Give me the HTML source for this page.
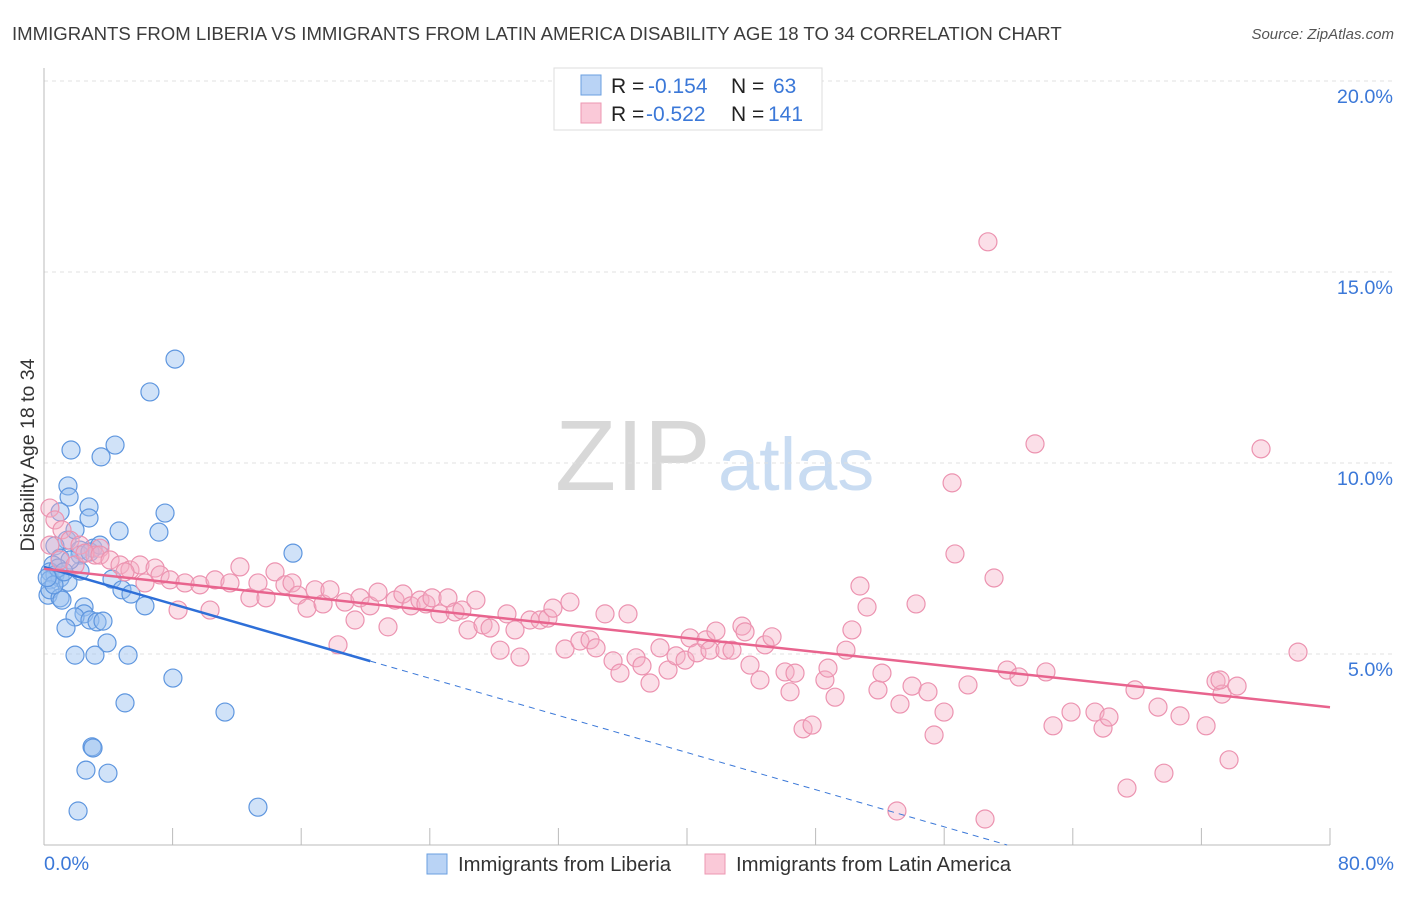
<!DOCTYPE html>
<html><head><meta charset="utf-8"><style>
body{margin:0;background:#fff;font-family:"Liberation Sans",sans-serif;}
svg text{font-family:"Liberation Sans",sans-serif;}
</style></head><body>
<svg id="chart" width="1406" height="892" viewBox="0 0 1406 892" xmlns="http://www.w3.org/2000/svg">
<text x="12" y="40" font-size="18.6" fill="#3c3c3c">IMMIGRANTS FROM LIBERIA VS IMMIGRANTS FROM LATIN AMERICA DISABILITY AGE 18 TO 34 CORRELATION CHART</text>
<text x="1394" y="39" font-size="15" fill="#555" font-style="italic" text-anchor="end">Source: ZipAtlas.com</text>
<g>
<text x="555" y="490" font-size="100" fill="#d8d8d8" font-family="Liberation Serif, serif">ZIP</text>
<text x="718" y="490" font-size="74" fill="#c9dcf2">atlas</text>
</g>
<g id="grid"></g>
<g id="axes"></g>
<g id="marks"></g>
<text transform="translate(34,455) rotate(-90)" font-size="19.5" fill="#333" text-anchor="middle">Disability Age 18 to 34</text>
<g>
<rect x="554" y="68" width="268" height="62" fill="#fff" stroke="#ddd"/>
<rect x="581" y="75" width="20" height="20" fill="#b9d3f5" stroke="#6a9fe0"/>
<rect x="581" y="103" width="20" height="20" fill="#fac9d8" stroke="#ec97b2"/>
<text y="93" font-size="21" fill="#222"><tspan x="611">R =</tspan><tspan x="648" fill="#3b78d8">-0.154</tspan><tspan x="731">N =</tspan><tspan x="773" fill="#3b78d8">63</tspan></text>
<text y="121" font-size="21" fill="#222"><tspan x="611">R =</tspan><tspan x="646" fill="#3b78d8">-0.522</tspan><tspan x="731">N =</tspan><tspan x="768" fill="#3b78d8">141</tspan></text>
</g>
<g>
<rect x="427" y="854" width="20" height="20" fill="#b9d3f5" stroke="#6a9fe0"/>
<text x="458" y="871" font-size="20.3" fill="#333">Immigrants from Liberia</text>
<rect x="705" y="854" width="20" height="20" fill="#fac9d8" stroke="#ec97b2"/>
<text x="736" y="871" font-size="20.3" fill="#333">Immigrants from Latin America</text>
</g>
</svg>
<script>
const xTicks=[0,8,16,24,32,40,48,56,64,72,80];
const yTicks=[5,10,15,20];
const yTickLabels=["5.0%","10.0%","15.0%","20.0%"];
const xAxisLabels=["0.0%","80.0%"];
const liberiaX=[8.15,6.59,1.68,4.42,3.55,1.49,1.56,2.80,1.00,2.80,7.53,4.67,7.15,1.43,3.05,0.68,2.24,2.24,2.86,1.00,0.56,0.37,0.68,1.00,0.37,1.49,2.24,15.49,4.23,4.85,5.41,6.28,2.49,2.49,1.93,2.86,3.30,3.67,1.37,3.92,1.93,3.17,5.23,8.02,5.04,11.26,2.99,3.05,2.61,3.98,2.12,13.31,0.25,0.37,1.00,1.62,0.87,1.93,3.48,1.12,0.62,1.24,0.2];
const liberiaY=[12.72,11.86,10.34,10.47,10.16,9.40,9.11,8.85,8.72,8.56,8.69,8.22,8.19,7.98,7.77,7.83,7.72,7.59,7.67,7.51,7.33,7.15,7.07,6.99,6.94,6.88,7.17,7.64,6.96,6.68,6.57,6.26,6.23,6.05,5.97,5.89,5.84,5.86,5.68,5.29,4.97,4.97,4.97,4.37,3.72,3.48,2.57,2.54,1.96,1.88,0.89,0.99,6.54,6.68,6.47,7.46,7.25,8.25,7.85,6.41,6.81,7.15,7.0];
const latinX=[0.37,0.68,1.12,1.62,0.37,2.24,3.48,3.17,1.00,1.93,2.55,3.48,4.11,4.73,5.35,5.97,6.91,5.04,7.22,6.28,7.84,8.77,8.34,9.70,10.33,10.64,11.57,12.19,12.81,13.31,13.81,14.37,14.99,15.43,15.80,16.36,16.86,17.36,17.79,18.29,18.72,19.35,19.66,20.28,20.78,21.40,21.84,22.33,22.83,23.39,23.76,24.14,24.63,25.13,25.57,26.00,26.38,26.87,27.31,27.75,28.37,28.80,29.30,29.61,30.23,30.86,31.35,31.66,32.41,32.72,33.34,33.97,34.34,34.90,35.40,35.83,36.33,36.83,37.20,37.70,38.32,38.82,39.32,39.88,40.19,40.62,41.18,41.43,41.80,42.36,42.80,43.42,43.61,43.92,44.54,44.85,45.29,46.10,46.41,46.72,47.22,47.78,48.58,48.77,49.21,49.89,50.26,50.76,51.20,51.88,52.13,53.06,53.25,54.00,54.25,54.99,55.37,55.99,56.49,56.67,57.48,58.72,58.54,59.10,59.91,60.65,61.65,62.33,62.77,63.89,65.38,65.88,66.25,67.37,67.87,69.30,69.67,70.67,72.29,72.91,73.28,73.72,74.22,75.71,78.01,73.16];
const latinY=[8.82,8.51,8.25,7.98,7.85,7.85,7.77,7.59,7.46,7.33,7.64,7.59,7.46,7.33,7.20,7.33,7.25,7.15,7.07,6.86,6.94,6.86,6.15,6.81,6.15,6.94,6.86,7.28,6.47,6.86,6.47,7.15,6.81,6.86,6.54,6.20,6.68,6.31,6.68,5.24,6.36,5.89,6.47,6.26,6.62,5.71,6.41,6.57,6.26,6.41,6.31,6.47,6.05,6.47,6.10,6.15,5.63,6.41,5.76,5.68,5.10,6.05,5.63,4.92,5.89,5.89,5.94,6.20,5.13,6.36,5.34,5.37,5.16,6.05,4.82,4.50,6.05,4.90,4.69,4.24,5.16,4.58,4.95,4.84,5.42,5.03,5.37,5.10,5.60,5.10,5.10,5.73,5.58,4.71,4.32,5.24,5.45,4.53,4.01,4.50,3.04,3.14,4.32,4.63,3.87,5.10,5.63,6.78,6.23,4.06,4.50,0.89,3.69,4.16,6.31,4.01,2.88,3.48,9.48,7.62,4.19,15.79,0.68,6.99,4.58,4.40,10.50,4.53,3.12,3.48,3.48,3.06,3.35,1.49,4.06,3.61,1.88,3.38,3.12,4.29,3.95,2.23,4.16,10.37,5.05,4.32];
const liberiaTrend=[7.28,-0.1215];
const liberiaSolidEnd=[20.3];
const latinTrend=[7.23,-0.0453];

const X0=44,X1=1330,Y0=845,Y20=81;
const sx=v=>X0+(v/80)*(X1-X0);
const sy=v=>Y0-(v/20)*(Y0-Y20);
const NS="http://www.w3.org/2000/svg";
function mk(tag,attrs,parent){const e=document.createElementNS(NS,tag);for(const k in attrs)e.setAttribute(k,attrs[k]);parent.appendChild(e);return e;}
const grid=document.getElementById('grid'),axes=document.getElementById('axes'),marks=document.getElementById('marks');
yTicks.forEach((t,i)=>{
 const g=mk('line',{x1:X0,x2:1394,y1:sy(t),y2:sy(t),stroke:'#e0e0e0','stroke-dasharray':'4,4'},grid);
 
 
 const l=mk('text',{x:1393,y:sy(t)+22,'font-size':19.8,fill:'#3b78d8','text-anchor':'end'},axes);
 l.textContent=yTickLabels[i];
 
 
});
const ya=mk('line',{x1:X0,x2:X0,y1:68,y2:Y0,stroke:'#bbb'},axes);


const xa=mk('line',{x1:X0,x2:X1,y1:Y0,y2:Y0,stroke:'#bbb'},axes);


xTicks.forEach(t=>{
 const tk=mk('line',{x1:sx(t),x2:sx(t),y1:Y0-17,y2:Y0,stroke:'#bbb'},axes);
 
 
});
[[0,'start',44],[80,'end',1394]].forEach((d,i)=>{
 const l=mk('text',{x:d[2],y:870,'font-size':19.8,fill:'#3b78d8','text-anchor':d[1]},axes);
 l.textContent=xAxisLabels[i];
 
 
});
liberiaX.forEach((x,i)=>{
 const c=mk('circle',{cx:sx(x),cy:sy(liberiaY[i]),r:9,fill:'rgba(150,190,240,0.45)',stroke:'#5e96df','stroke-width':1.2},marks);
 
 
});
latinX.forEach((x,i)=>{
 const c=mk('circle',{cx:sx(x),cy:sy(latinY[i]),r:9,fill:'rgba(246,175,198,0.4)',stroke:'#ec93b0','stroke-width':1.2},marks);
 
 
});
const lt=v=>latinTrend[0]+latinTrend[1]*v, bt=v=>liberiaTrend[0]+liberiaTrend[1]*v;
const zeroX=-liberiaTrend[0]/liberiaTrend[1];
const bd=mk('line',{x1:sx(liberiaSolidEnd[0]),y1:sy(bt(liberiaSolidEnd[0])),x2:sx(zeroX),y2:sy(0),stroke:'#3b78d8','stroke-width':1,'stroke-dasharray':'6,5'},marks);


const bl=mk('line',{x1:sx(0),y1:sy(bt(0)),x2:sx(liberiaSolidEnd[0]),y2:sy(bt(liberiaSolidEnd[0])),stroke:'#2e6fd8','stroke-width':2.5},marks);


const pl=mk('line',{x1:sx(0),y1:sy(lt(0)),x2:sx(80),y2:sy(lt(80)),stroke:'#e8648e','stroke-width':2.5},marks);


</script>
</body></html>
